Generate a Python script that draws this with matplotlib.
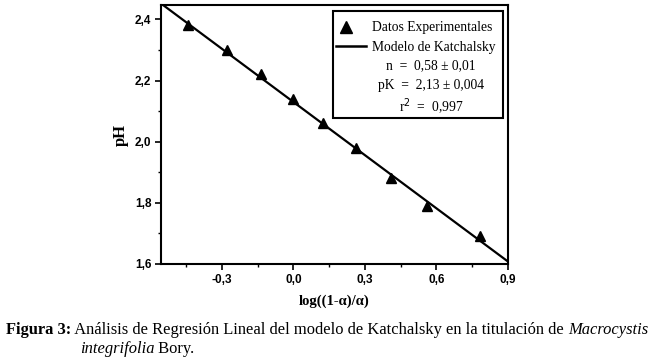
import numpy as np
import matplotlib
matplotlib.use('Agg')
import matplotlib.pyplot as plt
from matplotlib.ticker import MultipleLocator, FuncFormatter

log_ratio = [-0.44, -0.28, -0.135, 0.0, 0.126, 0.263, 0.41, 0.56, 0.783]
ph_values = [2.38, 2.30, 2.22, 2.14, 2.06, 1.98, 1.88, 1.79, 1.69]

# Katchalsky fit parameters
n_fit = 0.58
pk_fit = 2.13
x_range = [-0.55, 0.9]

legend_labels = ['Datos Experimentales', 'Modelo de Katchalsky']
param_lines = ['n  =  0,58 ± 0,01', 'pK  =  2,13 ± 0,004', 'r$^2$  =  0,997']

serif = 'Liberation Serif'
sans = 'Liberation Sans'

W, H = 650, 364
fig = plt.figure(figsize=(6.5, 3.64), dpi=100)
ax = fig.add_axes([161 / W, 1 - 264 / H, (508 - 161) / W, (264 - 5) / H])

# fitted line over full x range
xl = np.array(x_range)
ax.plot(xl, pk_fit - n_fit * xl, color='black', lw=1.6)
ax.plot(log_ratio, ph_values, linestyle='none', marker='^', color='black', markersize=7.5)

ax.set_xlim(-0.555, 0.9)
ax.set_ylim(1.6, 2.447)

ax.xaxis.set_major_locator(MultipleLocator(0.3))
ax.xaxis.set_minor_locator(MultipleLocator(0.15))
ax.yaxis.set_major_locator(MultipleLocator(0.2))
ax.yaxis.set_minor_locator(MultipleLocator(0.1))
comma = FuncFormatter(lambda v, p: f'{v:.1f}'.replace('.', ',').replace('-0,0', '0,0'))
ax.xaxis.set_major_formatter(comma)
ax.yaxis.set_major_formatter(comma)
ax.tick_params(which='major', direction='out', length=4, width=1.2, labelsize=8.5, pad=3)
ax.tick_params(which='minor', direction='out', length=2.5, width=1.0)
for lab in ax.get_xticklabels() + ax.get_yticklabels():
    lab.set_family(sans)
    lab.set_fontweight('bold')
for s in ax.spines.values():
    s.set_linewidth(1.5)

ax.set_xlabel('log((1-α)/α)', family=serif, fontsize=10.5, fontweight='bold', labelpad=6)
ax.set_ylabel('pH', family=serif, fontsize=12, fontweight='bold', labelpad=4)


def fx(px):
    return (px - 161) / 347


def fy(py):
    return 1 - (py - 5) / 259


# legend box drawn by hand (holds the fit parameters too)
ax.add_patch(plt.Rectangle((fx(333), fy(118)), fx(503) - fx(333), fy(11) - fy(118),
                           transform=ax.transAxes, fill=False, lw=1.5, edgecolor='black'))
ax.plot([fx(346)], [fy(27)], transform=ax.transAxes, marker='^', color='black', markersize=8.5)
ax.plot([fx(336), fx(366)], [fy(46), fy(46)], transform=ax.transAxes, color='black', lw=1.8)
tk = dict(transform=ax.transAxes, family=serif, fontsize=9.8, va='center')
ax.text(fx(372), fy(28), legend_labels[0], ha='left', **tk)
ax.text(fx(372), fy(47), legend_labels[1], ha='left', **tk)
for yy, t in zip([66, 86, 107], param_lines):
    ax.text(fx(431), fy(yy), t, ha='center', **tk)

# caption, measured so that the first line spans the figure width
renderer = fig.canvas.get_renderer()
cap1 = [('Figura 3:', 'bold', 'normal'),
        (' Análisis de Regresión Lineal del modelo de Katchalsky en la titulación de ', 'normal', 'normal'),
        ('Macrocystis', 'normal', 'italic')]
cap2 = [('integrifolia', 'normal', 'italic'), (' Bory.', 'normal', 'normal')]


def put_line(parts, x0, y0, size):
    x = x0
    for txt, wt, st in parts:
        t = fig.text(x / W, 1 - y0 / H, txt, family=serif, fontsize=size,
                     fontweight=wt, style=st, va='center')
        bb = t.get_window_extent(renderer)
        x += bb.width
    return x


size = 12
probe = put_line(cap1, 6, -100, size) - 6
for t in list(fig.texts):
    t.remove()
size = size * 641 / probe
put_line(cap1, 6, 330, size)
put_line(cap2, 80, 349, size)

fig.savefig('out.png', dpi=100)
